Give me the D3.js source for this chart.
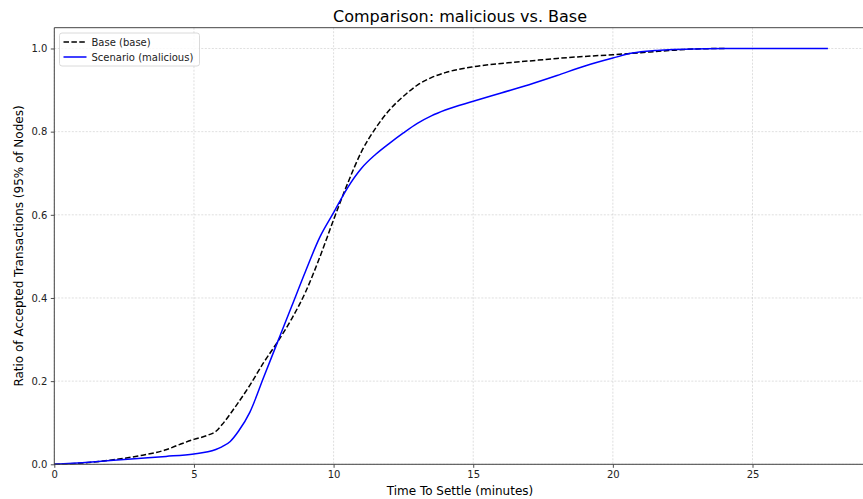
<!DOCTYPE html>
<html>
<head>
<meta charset="utf-8">
<script src="https://cdn.jsdelivr.net/npm/d3@7"></script>
<style>
  html, body { margin: 0; padding: 0; background: #fff; }
  svg { display: block; font-family: "DejaVu Sans", sans-serif; }
</style>
</head>
<body>
<svg id="chart" width="863" height="499"></svg>
<script>
// Time to settle (minutes) vs. ratio of accepted transactions
const baseTime  = [0, 1, 2, 3, 4, 4.5, 5, 5.5, 5.8, 6, 6.5, 7, 7.5, 8, 8.5, 9, 9.5, 10, 10.5, 11, 11.5, 12, 12.5, 13, 13.5, 14, 15, 16, 17, 18, 19, 20, 21, 22, 23, 24];
const baseRatio = [0, 0.003, 0.01, 0.02, 0.035, 0.048, 0.06, 0.07, 0.08, 0.095, 0.14, 0.19, 0.245, 0.295, 0.35, 0.415, 0.497, 0.588, 0.675, 0.752, 0.808, 0.852, 0.885, 0.912, 0.93, 0.942, 0.956, 0.964, 0.97, 0.976, 0.981, 0.985, 0.99, 0.995, 0.999, 1.0];

const malTime  = [0, 1, 2, 3, 4, 5, 5.5, 6, 6.3, 6.6, 7, 7.5, 8, 8.5, 9, 9.5, 10, 10.5, 11, 11.5, 12, 12.5, 13, 13.5, 14, 15, 16, 17, 18, 19, 20, 20.7, 21.5, 22, 23, 24, 27.7];
const malRatio = [0, 0.004, 0.009, 0.014, 0.019, 0.025, 0.03, 0.042, 0.055, 0.08, 0.125, 0.21, 0.295, 0.38, 0.465, 0.545, 0.605, 0.665, 0.712, 0.745, 0.772, 0.797, 0.82, 0.838, 0.852, 0.873, 0.893, 0.913, 0.935, 0.958, 0.977, 0.989, 0.995, 0.997, 0.999, 1.0, 1.0];

const xTicks = [0, 5, 10, 15, 20, 25];
const yTicks = [0.0, 0.2, 0.4, 0.6, 0.8, 1.0];

const seriesNames = ["Base (base)", "Scenario (malicious)"];

const svg = d3.select("#chart");
const plotL = 54.3, plotR = 866.6, plotT = 27.7, plotB = 464.3;

const x = d3.scaleLinear().domain([0, 29.085]).range([plotL, plotR]);
const y = d3.scaleLinear().domain([0, 1.05]).range([plotB, plotT]);

// grid
const grid = svg.append("g");
grid.selectAll(".gx").data(xTicks).join("line")
  .attr("x1", d => x(d)).attr("x2", d => x(d))
  .attr("y1", plotT).attr("y2", plotB)
  .attr("stroke", "#b0b0b0").attr("stroke-opacity", 0.5)
  .attr("stroke-width", 0.8).attr("stroke-dasharray", "2,1.5");
grid.selectAll(".gy").data(yTicks).join("line")
  .attr("x1", plotL).attr("x2", plotR)
  .attr("y1", d => y(d)).attr("y2", d => y(d))
  .attr("stroke", "#b0b0b0").attr("stroke-opacity", 0.5)
  .attr("stroke-width", 0.8).attr("stroke-dasharray", "2,1.5");

// lines
const line = d3.line().curve(d3.curveMonotoneX).x(d => x(d[0])).y(d => y(d[1]));
const baseData = baseTime.map((t, i) => [t, baseRatio[i]]);
const malData = malTime.map((t, i) => [t, malRatio[i]]);

svg.append("path").datum(baseData).attr("d", line)
  .attr("fill", "none").attr("stroke", "#000").attr("stroke-width", 1.5)
  .attr("stroke-dasharray", "5.5,2.4");
svg.append("path").datum(malData).attr("d", line)
  .attr("fill", "none").attr("stroke", "#0000ff").attr("stroke-width", 1.5);

// axes
const xAxis = d3.axisBottom(x).tickValues(xTicks).tickFormat(d3.format("d")).tickSize(3.5).tickPadding(3.5);
const yAxis = d3.axisLeft(y).tickValues(yTicks).tickFormat(d3.format(".1f")).tickSize(3.5).tickPadding(3.5);

const gx = svg.append("g").attr("transform", `translate(0,${plotB})`).call(xAxis);
const gy = svg.append("g").attr("transform", `translate(${plotL},0)`).call(yAxis);
[gx, gy].forEach(g => {
  g.select(".domain").remove();
  g.selectAll("text").attr("font-size", 10).attr("fill", "#222").attr("font-family", "DejaVu Sans");
  g.selectAll("line").attr("stroke", "#222").attr("stroke-width", 0.8);
});

// spines
const spineColor = "#444";
svg.append("line").attr("x1", plotL).attr("x2", plotL).attr("y1", plotT).attr("y2", plotB).attr("stroke", spineColor).attr("stroke-width", 1);
svg.append("line").attr("x1", plotL).attr("x2", plotR).attr("y1", plotB).attr("y2", plotB).attr("stroke", spineColor).attr("stroke-width", 1);
svg.append("line").attr("x1", plotL).attr("x2", plotR).attr("y1", plotT).attr("y2", plotT).attr("stroke", spineColor).attr("stroke-width", 1);

// title and labels
svg.append("text").attr("x", 460).attr("y", 22).attr("text-anchor", "middle")
  .attr("font-size", 16).attr("fill", "#000").text("Comparison: malicious vs. Base");
svg.append("text").attr("x", 460).attr("y", 495).attr("text-anchor", "middle")
  .attr("font-size", 12).attr("fill", "#000").text("Time To Settle (minutes)");
svg.append("text").attr("transform", `translate(23,${(plotT + plotB) / 2}) rotate(-90)`)
  .attr("text-anchor", "middle").attr("font-size", 12).attr("fill", "#000")
  .text("Ratio of Accepted Transactions (95% of Nodes)");

// legend
const lg = svg.append("g").attr("transform", "translate(59.5,33)");
lg.append("rect").attr("width", 140).attr("height", 33).attr("rx", 2.5)
  .attr("fill", "#fff").attr("fill-opacity", 0.8).attr("stroke", "#d0d0d0").attr("stroke-width", 0.8);
const items = [
  { name: seriesNames[0], color: "#000", dash: "5.5,2.4" },
  { name: seriesNames[1], color: "#0000ff", dash: null }
];
items.forEach((it, i) => {
  const yy = 9 + i * 15;
  lg.append("line").attr("x1", 4).attr("x2", 27).attr("y1", yy).attr("y2", yy)
    .attr("stroke", it.color).attr("stroke-width", 1.5).attr("stroke-dasharray", it.dash);
  lg.append("text").attr("x", 32).attr("y", yy + 3.6).attr("font-size", 10).attr("fill", "#222").text(it.name);
});
</script>
</body>
</html>
